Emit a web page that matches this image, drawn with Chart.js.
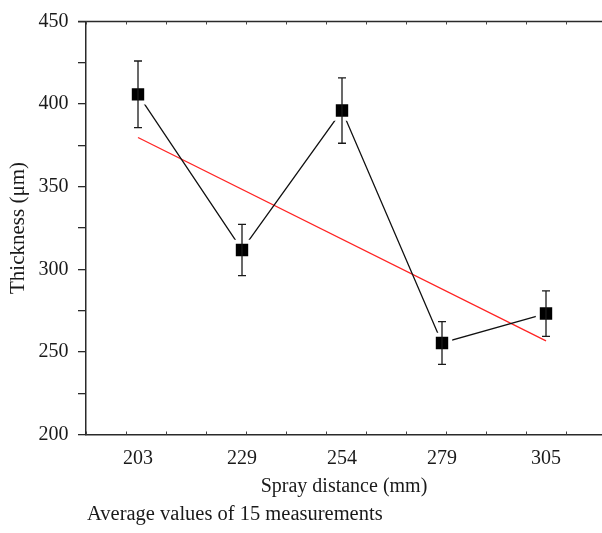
<!DOCTYPE html>
<html>
<head>
<meta charset="utf-8">
<script src="https://cdn.jsdelivr.net/npm/chart.js@4/dist/chart.umd.min.js"></script>
<style>
  html, body { margin: 0; padding: 0; background: #fff; }
  #wrap { position: relative; width: 602px; height: 533px; overflow: hidden; }
  #caption { position: absolute; left: 87px; top: 503px; font-family: "Liberation Serif", serif; font-size: 20.5px; line-height: 1; color: #1a1a1a; white-space: nowrap; }
</style>
</head>
<body>
<div id="wrap">
  <canvas id="c" width="602" height="533"></canvas>
  <div id="caption">Average values of 15 measurements</div>
</div>
<script>
// ---- data ----
const distances = [203, 229, 254, 279, 305];          // spray distance (mm)
const thickness = [405.9, 311.7, 396.1, 255.4, 273.2]; // mean thickness (µm)
const errors    = [20.2, 15.5, 19.8, 12.9, 13.8];       // error bar half-lengths
const fitX = [203, 305];                                // linear fit ends
const fitY = [379.8, 256.7];
const xTickLabels = [203, 229, 254, 279, 305];
const xMin = 190, xMax = 319;
const yMin = 200, yMax = 450, yStep = 25, yLabelStep = 50;
const xMinorStep = 10;

const FONT = "'Liberation Serif', 'Times New Roman', serif";
const AXIS = '#2a2a2a';

const errorBarPlugin = {
  id: 'errorBars',
  afterDatasetsDraw(chart) {
    const ctx = chart.ctx;
    const xs = chart.scales.x, ys = chart.scales.y;
    ctx.save();
    ctx.strokeStyle = '#1a1a1a';
    ctx.lineWidth = 1.3;
    distances.forEach((d, i) => {
      const x = xs.getPixelForValue(d);
      const yt = ys.getPixelForValue(thickness[i] + errors[i]);
      const yb = ys.getPixelForValue(thickness[i] - errors[i]);
      ctx.beginPath();
      ctx.moveTo(x, yt); ctx.lineTo(x, yb);
      ctx.moveTo(x - 4, yt); ctx.lineTo(x + 4, yt);
      ctx.moveTo(x - 4, yb); ctx.lineTo(x + 4, yb);
      ctx.stroke();
    });
    ctx.restore();
  }
};

const framePlugin = {
  id: 'frame',
  afterDraw(chart) {
    const ctx = chart.ctx;
    const a = chart.chartArea;
    const xs = chart.scales.x;
    ctx.save();
    ctx.strokeStyle = AXIS;
    ctx.lineWidth = 1.5;
    ctx.beginPath();
    ctx.moveTo(a.left - 8, a.top); ctx.lineTo(a.right, a.top);
    ctx.stroke();
    ctx.lineWidth = 1;
    ctx.strokeStyle = '#444';
    ctx.beginPath();
    for (let v = Math.ceil(xMin / xMinorStep) * xMinorStep; v <= xMax; v += xMinorStep) {
      const x = Math.round(xs.getPixelForValue(v)) + 0.5;
      ctx.moveTo(x, a.bottom); ctx.lineTo(x, a.bottom - 3);
      ctx.moveTo(x, a.top); ctx.lineTo(x, a.top + 3);
    }
    ctx.stroke();
    ctx.restore();
  }
};

new Chart(document.getElementById('c'), {
  type: 'line',
  data: {
    datasets: [
      {
        label: 'Linear fit',
        data: fitX.map((x, i) => ({ x: x, y: fitY[i] })),
        borderColor: '#ff2424',
        borderWidth: 1.3,
        pointRadius: 0,
        fill: false,
        tension: 0,
        order: 2
      },
      {
        label: 'Thickness',
        data: distances.map((x, i) => ({ x: x, y: thickness[i] })),
        borderColor: '#111',
        borderWidth: 1.3,
        pointStyle: 'rect',
        pointRadius: 11.6,
        pointBackgroundColor: '#000',
        pointBorderColor: '#fff',
        pointBorderWidth: 4,
        fill: false,
        tension: 0,
        order: 1
      }
    ]
  },
  options: {
    responsive: false,
    animation: false,
    layout: { autoPadding: false, padding: { top: 13.5, right: 0, left: 0, bottom: 0 } },
    plugins: { legend: { display: false }, tooltip: { enabled: false } },
    scales: {
      x: {
        type: 'linear',
        min: xMin,
        max: xMax,
        afterBuildTicks(scale) { scale.ticks = xTickLabels.map(v => ({ value: v })); },
        afterFit(scale) { scale.height = 98.5; },
        grid: { display: false, drawTicks: false },
        border: { display: true, color: AXIS, width: 1.5 },
        ticks: {
          autoSkip: false, maxRotation: 0, padding: 12, color: '#1a1a1a',
          font: { family: FONT, size: 20 },
          callback: (v) => String(v)
        },
        title: {
          display: true, text: 'Spray distance (mm)', color: '#1a1a1a',
          font: { family: FONT, size: 20 },
          padding: { top: 0, bottom: 34 }
        }
      },
      y: {
        type: 'linear',
        min: yMin,
        max: yMax,
        afterFit(scale) { scale.width = 86; },
        grid: { display: true, drawOnChartArea: false, drawTicks: true, tickLength: 8, color: AXIS, lineWidth: 1.3 },
        border: { display: true, color: AXIS, width: 1.5 },
        ticks: {
          stepSize: yStep, padding: 9.5, color: '#1a1a1a',
          font: { family: FONT, size: 20 },
          callback: (v) => (v % yLabelStep === 0 ? String(v) : '')
        },
        title: {
          display: true, text: 'Thickness (μm)', color: '#1a1a1a',
          font: { family: FONT, size: 21 },
          padding: { top: 6, bottom: 0 }
        }
      }
    }
  },
  plugins: [errorBarPlugin, framePlugin]
});
</script>
</body>
</html>
